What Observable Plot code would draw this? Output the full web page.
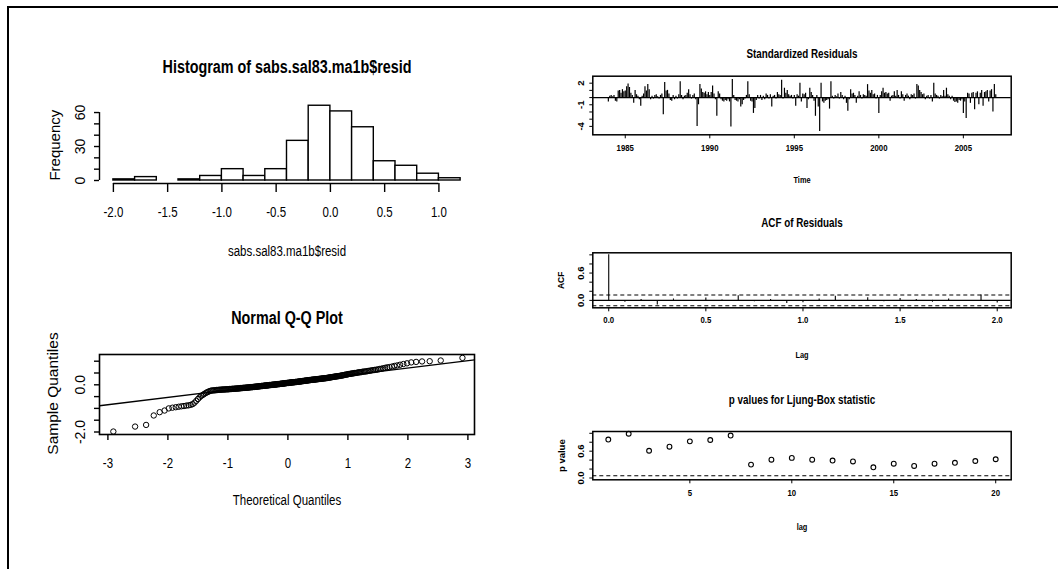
<!DOCTYPE html>
<html><head><meta charset="utf-8">
<script src="https://cdn.jsdelivr.net/npm/d3@7"></script>
<script src="https://cdn.jsdelivr.net/npm/@observablehq/plot@0.6"></script>
<style>
body{margin:0;background:#fff;}
#page{position:relative;width:1058px;height:569px;overflow:hidden;background:#fff;}
#page svg{position:absolute;overflow:visible;}
.border{position:absolute;left:7px;top:6px;right:0;bottom:0;border-top:2px solid #000;border-left:2px solid #000;}
</style></head><body><div id="page"><div class="border"></div></div>
<script>
// ---------- data ----------
const histBreaks = [-2.0,-1.8,-1.6,-1.4,-1.2,-1.0,-0.8,-0.6,-0.4,-0.2,0.0,0.2,0.4,0.6,0.8,1.0,1.2];
const histCounts = [1,3,0,1,4,10,4,10,35,66,61,47,17,13,6,2];
const histXTicks = [-2.0,-1.5,-1.0,-0.5,0.0,0.5,1.0];
const histYTicks = [0,10,20,30,40,50,60];
const histYLabels = [0,30,60];

// sorted residuals
const qqSample = [
-1.98,-1.77,-1.70,-1.30,-1.16,-1.09,-1.00,-0.97,-0.95,-0.93,-0.91,-0.90,-0.88,-0.87,-0.85,-0.82,-0.76,-0.68,-0.60,-0.53,-0.47,-0.43,-0.39,-0.35,-0.32,-0.29,-0.27,-0.25,
-0.24,-0.24,-0.23,-0.23,-0.22,-0.22,-0.21,
-0.21,-0.21,-0.20,-0.20,-0.20,-0.20,-0.19,-0.19,-0.19,
-0.19,-0.18,-0.18,-0.18,-0.17,-0.17,-0.17,-0.17,-0.16,-0.16,-0.16,
-0.16,-0.15,-0.15,-0.15,-0.14,-0.14,-0.14,-0.13,-0.13,-0.13,-0.13,-0.12,-0.12,-0.12,
-0.12,-0.11,-0.11,-0.11,-0.10,-0.10,-0.10,-0.10,-0.09,-0.09,-0.09,-0.08,-0.08,-0.08,-0.08,-0.07,-0.07,
-0.07,-0.06,-0.06,-0.06,-0.05,-0.05,-0.05,-0.05,-0.04,-0.04,-0.04,-0.03,-0.03,-0.03,
-0.03,-0.02,-0.02,-0.02,-0.01,-0.01,-0.01,-0.01,0.00,0.00,0.00,0.00,0.01,0.01,0.01,
0.01,0.02,0.02,0.02,0.03,0.03,0.03,0.03,0.04,0.04,0.04,0.05,0.05,0.05,0.05,0.06,0.06,0.06,0.07,0.07,0.07,0.08,0.08,
0.08,0.08,0.09,0.09,0.09,0.10,0.10,0.10,0.10,0.11,0.11,0.11,0.11,0.12,0.12,0.12,0.12,0.13,0.13,0.13,0.14,0.14,
0.14,0.15,0.15,0.15,0.16,0.16,0.16,0.17,0.17,0.17,0.18,0.18,0.18,0.19,0.19,
0.19,0.20,0.20,0.20,0.21,0.21,0.21,0.22,0.22,0.22,0.22,0.23,0.23,0.23,0.24,0.24,
0.24,0.25,0.25,0.25,0.26,0.26,0.26,0.27,0.27,0.27,0.28,0.28,0.28,0.29,0.29,0.30,0.30,
0.31,0.31,0.32,0.32,0.33,0.33,0.34,0.34,0.35,0.35,0.36,0.36,0.37,0.37,
0.38,0.38,0.39,0.40,0.40,0.41,0.42,0.43,0.43,0.44,0.45,
0.46,0.46,0.47,0.48,0.48,0.49,0.50,0.50,0.51,
0.52,0.53,0.53,0.54,0.55,0.56,0.56,
0.57,0.58,0.59,0.60,0.61,0.62,0.63,0.64,0.65,
0.67,0.68,0.70,0.72,0.74,0.75,0.77,
0.80,0.82,0.85,0.88,0.91,
0.95,0.97,0.99,1.00,1.03,1.14];
const qqXTicks = [-3,-2,-1,0,1,2,3];
const qqYTicks = [-2.0,-1.5,-1.0,-0.5,0.0,0.5,1.0];
const qqYLabels = [-2.0,0.0];

// standardized residuals, monthly from Jan 1984
const tsStart = 1984;
const stdResid = [
-0.6,0.2,0.3,0.1,0.3,-0.5,-0.6,0.9,1.0,0.6,1.1,0.8,
0.9,1.5,1.9,1.4,0.6,0.3,-0.8,1.0,0.4,0.2,-0.3,-1.2,
0.2,0.5,1.5,0.9,1.8,1.1,-0.3,0.2,-0.2,0.3,0.4,0.1,
-0.2,0.3,0.5,-2.4,2.1,0.9,1.0,0.5,-0.4,-0.5,0.3,-0.3,
0.2,-0.2,0.4,2.2,0.3,-0.3,0.2,0.3,0.6,1.1,0.4,-0.2,
0.3,0.5,-0.3,-4.0,-1.0,1.8,1.2,0.7,0.6,0.8,0.4,0.7,
0.3,0.7,1.6,0.5,-0.3,-2.6,0.8,0.5,-0.3,-0.5,-0.6,-0.4,
-0.5,-0.3,-0.6,-4.1,2.5,0.3,-0.4,-0.5,-0.6,-0.3,-1.3,-1.0,
-0.4,-0.2,0.3,2.2,0.4,-0.5,-0.6,-2.2,-1.5,-0.4,0.3,-0.2,
0.3,-0.4,0.2,-0.3,0.5,0.3,-0.2,0.4,-1.3,0.2,0.3,-0.2,
0.7,0.4,0.3,2.4,-0.2,1.3,0.6,1.0,0.4,0.2,0.3,-0.2,
0.3,-1.2,0.4,0.2,2.0,-0.6,0.5,0.4,0.6,-1.5,-0.3,1.3,
0.7,0.3,-0.5,-2.6,0.3,-1.3,-4.7,2.0,-0.6,-0.8,-0.5,-0.4,
-0.3,-1.6,2.2,0.2,-0.2,0.3,0.1,0.5,-0.2,0.7,0.3,-0.3,
0.2,-0.8,-1.9,-0.3,1.1,0.5,0.6,0.3,-0.8,0.2,0.8,0.3,
-0.2,0.4,0.3,0.2,1.8,0.9,0.6,1.0,0.4,0.5,-0.2,0.3,
-2.2,0.3,0.8,1.3,0.6,0.7,0.5,0.6,-0.5,0.2,0.3,0.8,
0.2,1.0,0.3,-0.2,0.8,0.4,-0.5,0.3,0.5,0.2,-0.3,0.4,
0.3,0.5,-0.2,1.8,1.6,1.0,0.7,0.4,0.5,-0.3,0.2,0.3,
-0.2,0.3,-0.6,2.0,0.5,0.3,0.2,-0.2,0.3,0.1,1.0,0.2,
1.3,0.4,0.2,-0.3,0.2,-0.5,-0.7,-0.6,-0.8,-0.4,-0.5,-0.3,
-2.2,-0.6,-2.9,0.6,0.5,-0.8,0.6,0.7,-1.7,0.6,0.8,-1.0,
0.6,1.0,-1.2,0.7,0.8,1.0,-0.6,0.9,1.1,-2.0,1.8,0.4];
const tsXTicks = [1985,1990,1995,2000,2005];
const tsYTicks = [-4,-3,-2,-1,0,1,2];
const tsYLabels = [2,-1,-4];

// ACF of residuals, lags 0..24 months
const acfValues = [1.0,-0.04,0.02,-0.10,0.03,-0.02,0.05,0.01,0.10,-0.03,0.02,-0.07,-0.05,0.03,0.09,-0.02,0.06,-0.03,0.04,0.02,-0.04,0.03,-0.02,0.12,-0.06];
const acfXTicks = [0.0,0.5,1.0,1.5,2.0];
const unitYTicks = [0.0,0.2,0.4,0.6,0.8,1.0];
const unitYLabels = [0.0,0.6];

// Ljung-Box p values, lags 1..20
const lbLags = [1,2,3,4,5,6,7,8,9,10,11,12,13,14,15,16,17,18,19,20];
const lbP = [0.86,0.99,0.61,0.70,0.82,0.85,0.95,0.30,0.41,0.45,0.41,0.39,0.37,0.24,0.32,0.27,0.32,0.34,0.38,0.42];
const lbXTicks = [5,10,15,20];

// ---------- helpers ----------
const FONT = "'Liberation Sans',Arial,sans-serif";
const SQUEEZE = 0.82;   // the reference is compressed horizontally
const page = document.getElementById("page");
function qnorm(p){
  const a=[-39.69683028665376,220.9460984245205,-275.9285104469687,138.3577518672690,-30.66479806614716,2.506628277459239];
  const b=[-54.47609879822406,161.5858368580409,-155.6989798598866,66.80131188771972,-13.28068155288572];
  const c=[-0.007784894002430293,-0.3223964580411365,-2.400758277161838,-2.549732539343734,4.374664141464968,2.938163982698783];
  const d=[0.007784695709041462,0.3224671290700398,2.445134137142996,3.754408661907416];
  const pl=0.02425;
  if(p<pl){const q=Math.sqrt(-2*Math.log(p));return (((((c[0]*q+c[1])*q+c[2])*q+c[3])*q+c[4])*q+c[5])/((((d[0]*q+d[1])*q+d[2])*q+d[3])*q+1);}
  if(p>1-pl){const q=Math.sqrt(-2*Math.log(1-p));return -(((((c[0]*q+c[1])*q+c[2])*q+c[3])*q+c[4])*q+c[5])/((((d[0]*q+d[1])*q+d[2])*q+d[3])*q+1);}
  const q=p-0.5,r=q*q;return (((((a[0]*r+a[1])*r+a[2])*r+a[3])*r+a[4])*r+a[5])*q/(((((b[0]*r+b[1])*r+b[2])*r+b[3])*r+b[4])*r+1);
}
function condense(svg){
  svg.querySelectorAll("text").forEach(t=>{
    if (t.closest('[transform*="rotate"]')) return;
    const L = t.getComputedTextLength();
    if (L>0){ t.setAttribute("textLength",(L*SQUEEZE).toFixed(2)); t.setAttribute("lengthAdjust","spacingAndGlyphs"); }
  });
}
function panel(reg, fr, xDomain, yDomain, marks){
  const [x0,y0,w,h]=reg, [L,T,R,B]=fr;
  const svg = Plot.plot({
    width:w, height:h,
    marginLeft:L-x0, marginTop:T-y0, marginRight:x0+w-R, marginBottom:y0+h-B,
    style:{background:"transparent", fontFamily:FONT, color:"#000", overflow:"visible"},
    x:{domain:xDomain, axis:null}, y:{domain:yDomain, axis:null},
    marks
  });
  svg.style.left=x0+"px"; svg.style.top=y0+"px";
  page.appendChild(svg);
  condense(svg);
  return svg;
}
const fmt1 = d => d.toFixed(1);
const vtext = (data, o) => Plot.text(data, {frameAnchor:"left", rotate:-90, textAnchor:"middle", lineAnchor:"middle", ...o});
const htext = (data, o) => Plot.text(data, {textAnchor:"middle", lineAnchor:"middle", ...o});

// ---------- A: histogram ----------
{
  const bins = histCounts.map((c,i)=>({x1:histBreaks[i], x2:histBreaks[i+1], n:c}));
  panel([0,40,529,240],[99,102.3,474,183],[-2.128,1.328],[-2.65,68.6],[
    Plot.rect(bins,{x1:"x1",x2:"x2",y1:0,y2:"n",fill:"white",stroke:"black",strokeWidth:1.4}),
    Plot.ruleY([-2.65],{x1:histXTicks[0],x2:histXTicks[histXTicks.length-1],strokeWidth:1.4}),
    Plot.ruleX([-2.128],{y1:histYTicks[0],y2:histYTicks[histYTicks.length-1],strokeWidth:1.4}),
    Plot.axisX({ticks:histXTicks,tickSize:9,tickPadding:15,tickFormat:fmt1,fontSize:14,label:null,strokeWidth:1.4}),
    Plot.axisY({ticks:histYTicks,tickSize:5,tickFormat:()=>"",label:null,strokeWidth:1.4}),
    vtext(histYLabels,{y:d=>d,text:d=>String(d),dx:-19,fontSize:14}),
    htext(["Histogram of sabs.sal83.ma1b$resid"],{frameAnchor:"top",dy:-35.5,fontSize:17.5,fontWeight:"bold"}),
    htext(["sabs.sal83.ma1b$resid"],{frameAnchor:"bottom",dy:68.5,fontSize:14}),
    vtext(["Frequency"],{dx:-44,dy:2,fontSize:15})
  ]);
}

// ---------- B: normal Q-Q ----------
{
  const n = qqSample.length;
  const pts = qqSample.map((v,i)=>({t:qnorm((i+0.5)/n), s:v}));
  const y1=d3.quantile(qqSample,0.25), y3=d3.quantile(qqSample,0.75);
  const z1=qnorm(0.25), z3=qnorm(0.75);
  const slope=(y3-y1)/(z3-z1), icpt=y1-slope*z1;
  const xd=[-3.14,3.11];
  const line = xd.map(t=>({t, s:icpt+slope*t}));
  panel([0,290,529,240],[99,354,474,434], xd, [-2.106,1.284], [
    Plot.line(line,{x:"t",y:"s",strokeWidth:1.3}),
    Plot.dot(pts,{x:"t",y:"s",r:2.7,stroke:"black",fill:"none",strokeWidth:1}),
    Plot.frame({strokeWidth:1.6}),
    Plot.axisX({ticks:qqXTicks,tickSize:6,tickPadding:18,tickFormat:d=>String(d),fontSize:14,label:null,strokeWidth:1.4}),
    Plot.axisY({ticks:qqYTicks,tickSize:5,tickFormat:()=>"",label:null,strokeWidth:1.4}),
    vtext(qqYLabels,{y:d=>d,text:fmt1,dx:-19,fontSize:14}),
    htext(["Normal Q-Q Plot"],{frameAnchor:"top",dy:-36,fontSize:17.5,fontWeight:"bold"}),
    htext(["Theoretical Quantiles"],{frameAnchor:"bottom",dy:66,fontSize:14}),
    vtext(["Sample Quantiles"],{dx:-46,dy:-1,fontSize:15.5})
  ]);
}

// ---------- C: standardized residuals ----------
{
  const ts = stdResid.map((v,i)=>({t:tsStart+i/12, v}));
  panel([529,40,529,160],[592.3,75.7,1010.7,134.3],[1983.08,2007.83],[-5.17,2.97],[
    Plot.ruleY([0],{strokeWidth:1.4}),
    Plot.ruleX(ts,{x:"t",y1:0,y2:"v",strokeWidth:1.2}),
    Plot.frame({strokeWidth:1.5}),
    Plot.axisX({ticks:tsXTicks,tickSize:4,tickPadding:5,tickFormat:d=>String(d),fontSize:9.5,fontWeight:"bold",label:null}),
    Plot.axisY({ticks:tsYTicks,tickSize:3,tickFormat:()=>"",label:null}),
    vtext(tsYLabels,{y:d=>d,text:d=>String(d),dx:-12,fontSize:9.5,fontWeight:"bold"}),
    htext(["Standardized Residuals"],{frameAnchor:"top",dy:-22.4,fontSize:12,fontWeight:"bold"}),
    htext(["Time"],{frameAnchor:"bottom",dy:45.7,fontSize:9,fontWeight:"bold"})
  ]);
}

// ---------- D: ACF ----------
{
  const n = stdResid.length;
  const clim = 1.96/Math.sqrt(n);
  const acf = acfValues.map((v,k)=>({lag:k/12, v}));
  panel([529,200,529,165],[592.3,252.3,1010.7,307.3],[-0.082,2.072],[-0.163,1.045],[
    Plot.ruleY([0],{strokeWidth:1.3}),
    Plot.ruleY([clim,-clim],{strokeWidth:1,strokeDasharray:"4,3"}),
    Plot.ruleX(acf,{x:"lag",y1:0,y2:"v",strokeWidth:1.1}),
    Plot.frame({strokeWidth:1.5}),
    Plot.axisX({ticks:acfXTicks,tickSize:4,tickPadding:4,tickFormat:fmt1,fontSize:9.5,fontWeight:"bold",label:null}),
    Plot.axisY({ticks:unitYTicks,tickSize:3,tickFormat:()=>"",label:null}),
    vtext(unitYLabels,{y:d=>d,text:fmt1,dx:-12,fontSize:9.5,fontWeight:"bold"}),
    htext(["ACF of Residuals"],{frameAnchor:"top",dy:-29.6,fontSize:12,fontWeight:"bold"}),
    htext(["Lag"],{frameAnchor:"bottom",dy:47.7,fontSize:9,fontWeight:"bold"}),
    vtext(["ACF"],{dx:-32,fontSize:8.5,fontWeight:"bold"})
  ]);
}

// ---------- E: Ljung-Box p-values ----------
{
  const pv = lbLags.map((k,i)=>({k, p:lbP[i]}));
  panel([529,380,529,160],[592.3,431,1010.7,479.3],[0.24,20.76],[-0.04,1.04],[
    Plot.ruleY([0.05],{strokeWidth:1.1,strokeDasharray:"4,3"}),
    Plot.dot(pv,{x:"k",y:"p",r:2.4,stroke:"black",fill:"none",strokeWidth:1.1}),
    Plot.frame({strokeWidth:1.5}),
    Plot.axisX({ticks:lbXTicks,tickSize:4,tickPadding:5,tickFormat:d=>String(d),fontSize:9.5,fontWeight:"bold",label:null}),
    Plot.axisY({ticks:unitYTicks,tickSize:3,tickFormat:()=>"",label:null}),
    vtext(unitYLabels,{y:d=>d,text:fmt1,dx:-12,fontSize:9.5,fontWeight:"bold"}),
    htext(["p values for Ljung-Box statistic"],{frameAnchor:"top",dy:-31,fontSize:12,fontWeight:"bold"}),
    htext(["lag"],{frameAnchor:"bottom",dy:47.7,fontSize:9,fontWeight:"bold"}),
    vtext(["p value"],{dx:-31,fontSize:9.5,fontWeight:"bold"})
  ]);
}
</script></body></html>
